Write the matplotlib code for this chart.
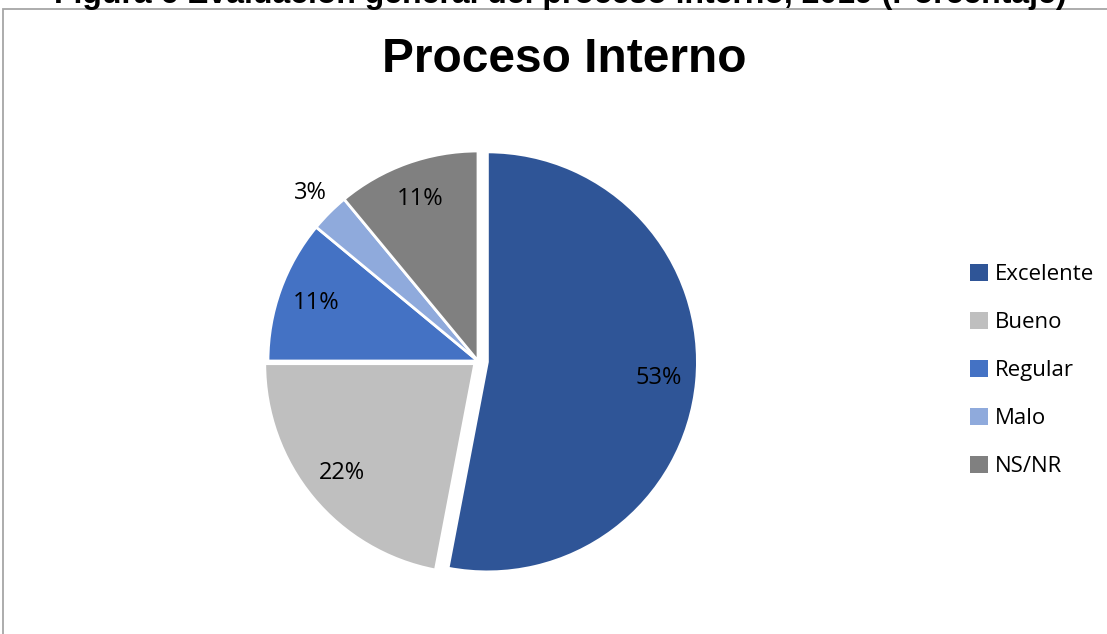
import matplotlib.pyplot as plt
from matplotlib.patches import Rectangle
import numpy as np

categories = ["Excelente", "Bueno", "Regular", "Malo", "NS/NR"]
values = [53, 22, 11, 3, 11]
colors = ["#2F5597", "#BFBFBF", "#4472C4", "#8FAADC", "#808080"]
explode = [0.045, 0.02, 0, 0, 0]
outside = [False, False, False, True, False]

W, H = 1107, 634
fig = plt.figure(figsize=(W / 100, H / 100), dpi=100)

# chart frame
fig.patches.append(Rectangle((3 / W, -0.1), 1.2, 1 - 9 / H + 0.1,
                             transform=fig.transFigure, fill=False,
                             edgecolor="#A6A6A6", linewidth=1.3))

fig.text(560 / W, 1 - 3 / H, "Figura 6 Evaluación general del proceso interno, 2019 (Porcentaje)",
         ha="center", va="baseline", fontsize=23, fontweight="bold",
         family="Liberation Sans")
fig.text(564 / W, 1 - 60 / H, "Proceso Interno", ha="center", va="center",
         fontsize=34.5, fontweight="bold", family="Liberation Sans")

cx, cy, R, half = 478, H - 361, 210, 300
ax = fig.add_axes([(cx - half) / W, (cy - half) / H, 2 * half / W, 2 * half / H])
wedges, _ = ax.pie(values, colors=colors, explode=explode, startangle=90,
                   counterclock=False, radius=1,
                   wedgeprops=dict(edgecolor="white", linewidth=2))

for w, v, e, out in zip(wedges, values, explode, outside):
    ang = np.deg2rad((w.theta1 + w.theta2) / 2)
    d = (1.13 if out else 0.82) + e
    ax.text(d * np.cos(ang), d * np.sin(ang), f"{v}%", ha="center", va="center",
            fontsize=17, family="Open Sans", color="#000000")

lim = half / R
ax.set_xlim(-lim, lim)
ax.set_ylim(-lim, lim)
ax.set_aspect("equal")
ax.axis("off")

leg = fig.legend(wedges, categories, loc="upper left",
                 bbox_to_anchor=(950 / W, 1 - 244 / H), frameon=False,
                 prop={"family": "Open Sans", "size": 16},
                 handlelength=0.8, handleheight=0.8, handletextpad=0.3,
                 labelspacing=1.2)
for h in leg.legend_handles:
    h.set_edgecolor("none")

fig.savefig("out.png", dpi=100)
